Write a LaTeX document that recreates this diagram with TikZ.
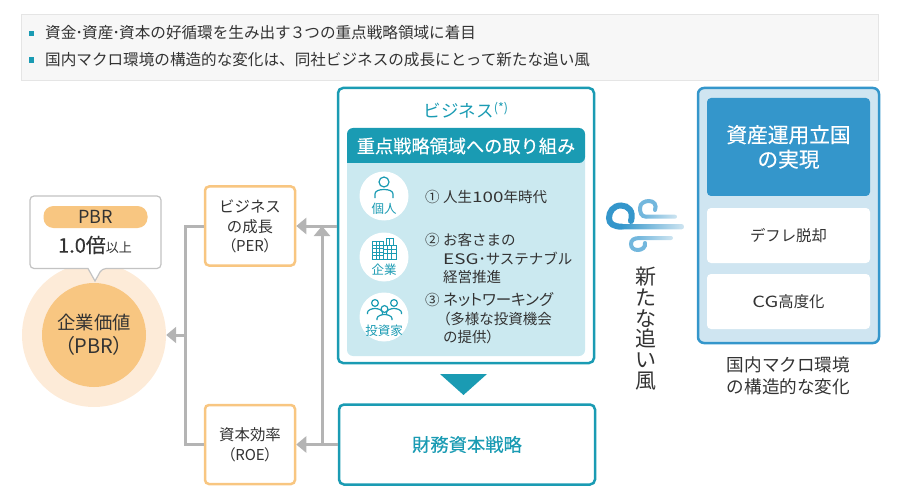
\documentclass[tikz,border=0pt]{standalone}
\usepackage{fontspec}
\setmainfont{Noto Sans CJK JP}
\newfontfamily\paltfont{Noto Sans CJK JP}[RawFeature={+palt}]
\newfontfamily\medfont{Noto Sans CJK JP}[FakeBold=0.3]
\usetikzlibrary{arrows.meta,positioning}
\definecolor{tealc}{HTML}{1A9BB3}
\definecolor{tealbg}{HTML}{CBE9F0}
\definecolor{bluec}{HTML}{3496CB}
\definecolor{bluebg}{HTML}{CFE5F1}
\definecolor{bluemid}{HTML}{73B7DD}
\definecolor{orangec}{HTML}{F8C681}
\definecolor{orangebg}{HTML}{FDEBD8}
\definecolor{grayc}{HTML}{B4B4B4}
\definecolor{inkc}{HTML}{333333}
\newcommand{\numlab}[1]{\makebox[18pt][l]{#1}}
\newcommand{\parlab}[1]{{\paltfont\fontsize{15}{18}\selectfont #1}}
\newcommand{\widelat}[1]{\scalebox{1.3}[1]{#1}}
\tikzset{
	txt/.style={text=inkc, inner sep=0pt, font=\fontsize{15.6}{19}\selectfont},
	itemtxt/.style={text=inkc, inner sep=0pt, anchor=west, align=left, font=\fontsize{14.5}{18.5}\selectfont},
	perbox/.style={draw=orangec, line width=2.5pt, rounded corners=4pt, fill=white, minimum width=90pt, minimum height=79pt, align=center, text=inkc, font=\fontsize{15.4}{20}\selectfont},
	whitebox/.style={fill=white, rounded corners=4pt, minimum width=163pt, minimum height=55pt, inner sep=0pt, text=inkc, font=\fontsize{15.4}{19}\selectfont},
	bluecirc/.style={circle, fill=white, minimum size=49pt, inner sep=0pt},
	iconlab/.style={text=tealc, inner sep=0pt, font=\fontsize{12.5}{14}\selectfont},
	icon/.style={draw=tealc, line width=1.2pt, fill=none},
	conn/.style={draw=grayc, line width=3pt},
	connar/.style={conn, -{Triangle[length=10pt,width=16pt]}},
	bullet/.style={fill=tealc, minimum size=5.5pt, inner sep=0pt}
}
\begin{document}
\begin{tikzpicture}[x=1pt,y=-1pt]
	\useasboundingbox (0,0) rectangle (900,500);
	% top box
	\node [draw=black!10, fill=black!3, minimum width=857pt, minimum height=66pt, inner sep=0pt] (top) at (449.5,47) {};
	\node [bullet] (bl1) at (31.5,33.5) {};
	\node [bullet] (bl2) at (31.5,60) {};
	\node [txt, anchor=west] (l1) at (45,33) {資金\kern-1pt･\kern-1pt資産\kern-1pt･\kern-1pt資本の好循環を生み出す\kern-1pt３\kern-1ptつの重点戦略領域に着目};
	\node [txt, anchor=west] (l2) at (45,60) {国内マクロ環境の構造的な変化は、同社ビジネスの成長にとって新たな追い風};
	% left
	\node [circle, fill=orangebg, minimum size=144pt, inner sep=0pt] (outer) at (94,335) {};
	\node [circle, fill=orangec, minimum size=104pt, inner sep=0pt, align=center, text=inkc, font=\fontsize{18.3}{24}\selectfont] (pbr) at (94,335) {企業価値\\{\paltfont\fontsize{20}{24}\selectfont（PBR）}};
	\draw [draw=grayc!80, line width=1.2pt, fill=white, rounded corners=4pt] (30,196) -- (161,196) -- (161,268.5) -- (102,268.5) [sharp corners] -- (95,281) -- (88,268.5) [rounded corners=4pt] -- (30,268.5) -- cycle;
	\node [fill=orangec, rounded corners=10pt, minimum width=104pt, minimum height=22pt, inner sep=0pt, text=inkc, font=\fontsize{18}{20}\selectfont] (pill) at (95.5,217) {PBR};
	\node [inner sep=0pt, text=inkc] (bai) at (95,245) {\medfont\fontsize{20}{24}\selectfont 1.0倍\normalfont\fontsize{13}{24}\selectfont 以上};
	\node [perbox] (per) at (250,226) {ビジネス\\の成長\\[-1pt]\parlab{（PER）}};
	\node [perbox] (roe) at (250,444.5) {資本効率\\\parlab{（ROE）}};
	% business
	\node [draw=tealc, line width=2.5pt, rounded corners=5pt, minimum width=256pt, minimum height=275pt] (biz) at (466,225.5) {};
	\node [text=tealc, inner sep=0pt, font=\fontsize{17.5}{20}\selectfont] (biztitle) at (466,110) {ビジネス\raisebox{5pt}{\fontsize{12.5}{12}\selectfont(*)}};
	\fill [tealbg, rounded corners=6pt] (347,150) -- (585,150) -- (585,356) -- (347,356) -- cycle;
	\fill [tealc, rounded corners=6pt] (347,163) -- (347,128) -- (585,128) -- (585,163) [sharp corners] -- cycle;
	\node [text=white, inner sep=0pt, font=\medfont\fontsize{18.2}{22}\selectfont] (head) at (466,146) {重点戦略領域への取り組み};
	\node [bluecirc] (c1) at (384,196) {};
	\node [bluecirc] (c2) at (384,257) {};
	\node [bluecirc] (c3) at (384,317) {};
	\node [iconlab] (lab1) at (384,209) {個人};
	\node [iconlab] (lab2) at (384,270) {企業};
	\node [iconlab] (lab3) at (384,331) {投資家};
	% person
	\draw [icon] (384,182) circle (5pt);
	\draw [icon] (375,198) -- (375,194) .. controls (375,191) and (379,189.5) .. (384,189.5) .. controls (389,189.5) and (393,191) .. (393,194) -- (393,198);
	% building
	\draw [icon, line width=1pt] (372.5,259) -- (372.5,241.5) -- (383,241.5) -- (383,259) (386,245) -- (386,238.5) -- (393,238.5) -- (393,245) (383,245) -- (396,245) -- (396,259) (371.5,259) -- (397,259);
	\foreach \wy in {245,248.5,252,255.5} {
		\draw [icon, line width=.7pt] (372.5,\wy) -- (383,\wy);
	}
	\foreach \wy in {249,253} {
		\draw [icon, line width=.7pt] (383,\wy) -- (396,\wy);
	}
	\foreach \wx/\wa/\wb in {376/241.5/259,379.5/241.5/259,387/245/259,391.5/245/259,389.5/238.5/245} {
		\draw [icon, line width=.7pt] (\wx,\wa) -- (\wx,\wb);
	}
	% investors
	\foreach \cx/\cy in {375/303,394/303,384.5/309} {
		\draw [icon, fill=white] (\cx-7.5,\cy+11) -- (\cx-7.5,\cy+9.5) .. controls (\cx-7.5,\cy+7) and (\cx-3,\cy+5.5) .. (\cx,\cy+5.5) .. controls (\cx+3,\cy+5.5) and (\cx+7.5,\cy+7) .. (\cx+7.5,\cy+9.5) -- (\cx+7.5,\cy+11);
		\draw [icon] (\cx,\cy) circle (3.4pt);
	}
	\node [itemtxt] (it1) at (425,197) {\numlab{①}人生\widelat{100}年時代};
	\node [itemtxt] (it2) at (425,258.5) {\numlab{②}お客さまの\\\hspace*{18pt}\widelat{ESG}･サステナブル\\\hspace*{18pt}経営推進};
	\node [itemtxt] (it3) at (425,318.5) {\numlab{③}{\paltfont\fontsize{15.5}{18.5}\selectfont ネットワーキング}\\\hspace*{18pt}{\paltfont（}多様な投資機会\\\hspace*{18pt}の提供{\paltfont）}};
	% finance
	\fill [tealc] (440,374) -- (487,374) -- (463.5,395) -- cycle;
	\node [draw=tealc, line width=2.5pt, rounded corners=5pt, minimum width=256pt, minimum height=80pt, text=tealc, font=\medfont\fontsize{18.3}{20}\selectfont] (fin) at (467,444.5) {財務資本戦略};
	% connectors
	\coordinate (j1) at (185,335);
	\coordinate (j2) at (322,444.5);
	\coordinate (j3) at (322,226);
	\draw [connar] (biz.west |- per) -- (per);
	\draw [connar] (fin) -- (roe);
	\draw [connar] (j2) -- (j3);
	\draw [conn] (per.west) -| (j1) |- (roe.west);
	\draw [connar] (j1) -- (outer);
	% wind
	\draw [bluec, line width=6pt, line cap=round] (631,221) .. controls (634,211) and (628,205.5) .. (621,205.5) .. controls (613,205.5) and (609,212) .. (609,218) .. controls (609,224) and (614,226.7) .. (622,226.7);
	\draw [bluemid, line width=4pt, line cap=round] (646,216.7) .. controls (641,216.7) and (640,212) .. (640,208) .. controls (640,203) and (645,201) .. (649,201) .. controls (654,201) and (657,205) .. (655,210);
	\draw [bluemid, line width=4pt, line cap=round] (640,238) .. controls (634,238) and (631,240) .. (631,244) .. controls (631,248) and (634,250) .. (638,250) .. controls (642,250) and (646,247) .. (645,243);
	\shade [left color=bluemid, right color=bluebg, rounded corners=2pt] (645,214.7) rectangle (677,218.7);
	\shade [left color=bluec, right color=bluebg, rounded corners=2.5pt] (621,224) rectangle (684,229.4);
	\shade [left color=bluemid, right color=bluebg, rounded corners=2pt] (638,236) rectangle (673,240);
	\node [inner sep=0pt, align=center, text=inkc, font=\fontsize{21}{20.8}\selectfont] (wind) at (646,328.5) {新\\た\\な\\追\\い\\風};
	% right
	\node [draw=bluec, fill=bluebg, line width=2.5pt, rounded corners=6pt, minimum width=181pt, minimum height=255pt] (macro) at (788.5,215.5) {};
	\node [fill=bluec, rounded corners=4pt, minimum width=163pt, minimum height=98pt, align=center, inner sep=0pt, text=white, font=\medfont\fontsize{20.7}{24.5}\selectfont] (goal) at (788.5,147) {資産運用立国\\の実現};
	\node [whitebox] (defl) at (788.5,235.5) {デフレ脱却};
	\node [whitebox] (cg) at (788.5,301.5) {\widelat{CG}高度化};
	\node [inner sep=0pt, align=center, text=inkc, font=\fontsize{17.6}{22}\selectfont] (cap) at (788.5,376) {国内マクロ環境\\の構造的な変化};
\end{tikzpicture}
\end{document}
